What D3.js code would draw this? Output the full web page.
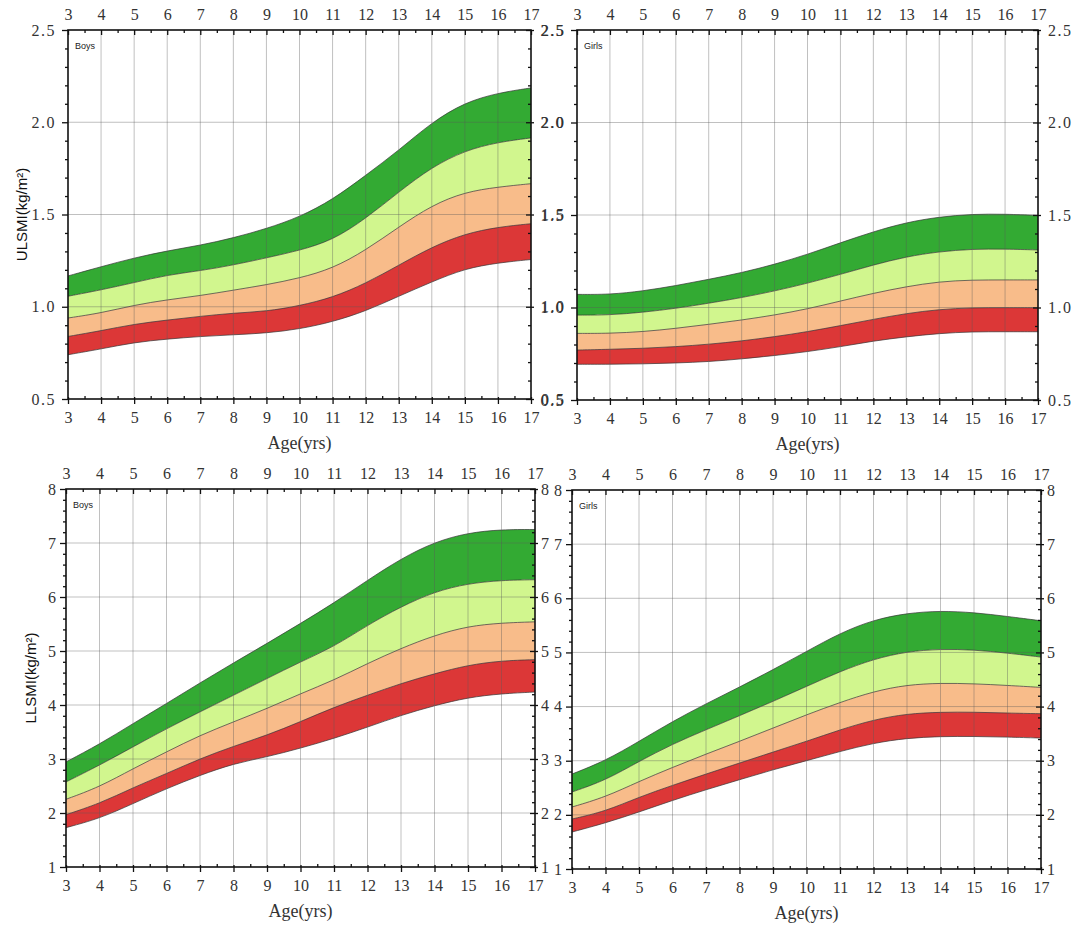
<!DOCTYPE html>
<html>
<head>
<meta charset="utf-8">
<script src="https://cdn.jsdelivr.net/npm/d3@7"></script>
<style>
  body { margin: 0; background: #fff; }
  svg { display: block; }
  .tick text { fill: #333; }
</style>
</head>
<body>
<script>
// ages on the x axis
var ages = [3, 4, 5, 6, 7, 8, 9, 10, 11, 12, 13, 14, 15, 16, 17];

// each panel: 5 reference curves, top to bottom
var boysULSMI = [
  [1.167, 1.217, 1.265, 1.303, 1.333, 1.373, 1.423, 1.486, 1.58, 1.712, 1.847, 2.0, 2.108, 2.159, 2.186],
  [1.057, 1.091, 1.131, 1.172, 1.195, 1.226, 1.265, 1.305, 1.36, 1.477, 1.622, 1.757, 1.847, 1.892, 1.915],
  [0.939, 0.966, 1.009, 1.038, 1.06, 1.09, 1.119, 1.155, 1.207, 1.306, 1.432, 1.55, 1.622, 1.649, 1.667],
  [0.839, 0.87, 0.906, 0.928, 0.948, 0.966, 0.975, 1.005, 1.05, 1.126, 1.225, 1.324, 1.396, 1.432, 1.45],
  [0.74, 0.771, 0.807, 0.825, 0.839, 0.848, 0.857, 0.879, 0.918, 0.976, 1.057, 1.135, 1.207, 1.238, 1.256]
];
var girlsULSMI = [
  [1.071, 1.07, 1.089, 1.118, 1.152, 1.188, 1.233, 1.287, 1.35, 1.41, 1.46, 1.49, 1.505, 1.505, 1.498],
  [0.959, 0.959, 0.974, 0.995, 1.023, 1.053, 1.089, 1.131, 1.179, 1.23, 1.275, 1.302, 1.316, 1.316, 1.311],
  [0.86, 0.86, 0.869, 0.887, 0.909, 0.932, 0.959, 0.992, 1.035, 1.077, 1.113, 1.14, 1.149, 1.149, 1.149],
  [0.77, 0.774, 0.779, 0.788, 0.801, 0.819, 0.842, 0.869, 0.902, 0.936, 0.968, 0.99, 0.999, 0.999, 0.999],
  [0.693, 0.693, 0.695, 0.7, 0.707, 0.722, 0.74, 0.761, 0.788, 0.819, 0.842, 0.86, 0.869, 0.869, 0.869]
];
var boysLLSMI = [
  [2.946, 3.273, 3.656, 4.027, 4.41, 4.78, 5.14, 5.51, 5.89, 6.31, 6.71, 7.02, 7.19, 7.25, 7.25],
  [2.575, 2.884, 3.224, 3.563, 3.872, 4.181, 4.49, 4.8, 5.08, 5.48, 5.82, 6.1, 6.25, 6.31, 6.32],
  [2.254, 2.482, 2.822, 3.131, 3.44, 3.687, 3.934, 4.21, 4.46, 4.77, 5.05, 5.29, 5.46, 5.52, 5.54],
  [1.97, 2.174, 2.47, 2.729, 3.007, 3.236, 3.44, 3.69, 3.96, 4.18, 4.4, 4.58, 4.74, 4.82, 4.84],
  [1.729, 1.896, 2.174, 2.452, 2.699, 2.915, 3.038, 3.2, 3.38, 3.59, 3.81, 3.99, 4.14, 4.21, 4.24]
];
var girlsLLSMI = [
  [2.754, 3.0, 3.357, 3.726, 4.052, 4.36, 4.68, 5.018, 5.357, 5.603, 5.726, 5.769, 5.738, 5.665, 5.585],
  [2.422, 2.637, 2.988, 3.308, 3.572, 3.831, 4.095, 4.372, 4.649, 4.877, 5.018, 5.062, 5.049, 4.988, 4.914],
  [2.145, 2.329, 2.618, 2.877, 3.123, 3.357, 3.603, 3.849, 4.077, 4.28, 4.403, 4.434, 4.422, 4.391, 4.354],
  [1.923, 2.065, 2.329, 2.545, 2.754, 2.957, 3.16, 3.357, 3.572, 3.757, 3.868, 3.898, 3.898, 3.88, 3.868],
  [1.683, 1.849, 2.052, 2.268, 2.465, 2.649, 2.834, 3.0, 3.172, 3.326, 3.418, 3.449, 3.449, 3.437, 3.418]
];

var bandColors = ["#33aa33", "#d1f68e", "#f8bc8a", "#dc3737"];

var panels = [
  { data: boysULSMI, label: "Boys", x0: 68, x1: 531, y0: 30, y1: 399,
    dom: [0.5, 2.5], major: 0.5, minor: 0.1, fmt: ".1f", title: "ULSMI(kg/m²)", titleX: 22 },
  { data: girlsULSMI, label: "Girls", x0: 577, x1: 1038, y0: 30, y1: 400,
    dom: [0.5, 2.5], major: 0.5, minor: 0.1, fmt: ".1f" },
  { data: boysLLSMI, label: "Boys", x0: 66, x1: 535, y0: 489, y1: 867,
    dom: [1, 8], major: 1, minor: 0.2, fmt: "d", title: "LLSMI(kg/m²)", titleX: 31 },
  { data: girlsLLSMI, label: "Girls", x0: 572, x1: 1041, y0: 490, y1: 869,
    dom: [1, 8], major: 1, minor: 0.2, fmt: "d" }
];

var svg = d3.select("body").append("svg")
    .attr("width", 1072)
    .attr("height", 925);

var serif = "'Liberation Serif', 'DejaVu Serif', serif";
var sans = "'Liberation Sans', Arial, sans-serif";

function steps(lo, hi, step) {
  var n = Math.round((hi - lo) / step);
  return d3.range(n + 1).map(function(i) { return +(lo + i * step).toFixed(2); });
}

panels.forEach(function(p) {
  var x = d3.scaleLinear().domain([3, 17]).range([p.x0, p.x1]);
  var y = d3.scaleLinear().domain(p.dom).range([p.y1, p.y0]);
  var g = svg.append("g");

  var majorY = steps(p.dom[0], p.dom[1], p.major);
  var minorY = steps(p.dom[0], p.dom[1], p.minor).filter(function(v) {
    return majorY.indexOf(v) < 0;
  });
  var minorX = d3.range(3.5, 17, 1);
  var fmt = d3.format(p.fmt);
  var isDec = p.fmt === ".1f";

  // bands between consecutive curves
  for (var i = 0; i < 4; i++) {
    var hiC = p.data[i], loC = p.data[i + 1];
    var area = d3.area()
        .x(function(d, k) { return x(ages[k]); })
        .y0(function(d, k) { return y(loC[k]); })
        .y1(function(d, k) { return y(hiC[k]); })
        .curve(d3.curveBasis);
    g.append("path")
        .attr("d", area(ages))
        .attr("fill", bandColors[i]);
  }

  var line = d3.line()
      .x(function(d, k) { return x(ages[k]); })
      .y(function(d) { return y(d); })
      .curve(d3.curveBasis);
  g.selectAll(".curve").data(p.data).enter().append("path")
      .attr("class", "curve")
      .attr("d", line)
      .attr("fill", "none")
      .attr("stroke", "#333")
      .attr("stroke-width", 0.7);

  // grid
  g.selectAll(".vg").data(ages.slice(1, -1)).enter().append("line")
      .attr("x1", function(d) { return x(d); }).attr("x2", function(d) { return x(d); })
      .attr("y1", p.y0).attr("y2", p.y1)
      .attr("stroke", "rgba(90,90,90,0.38)").attr("stroke-width", 1);
  g.selectAll(".hg").data(majorY.slice(1, -1)).enter().append("line")
      .attr("y1", function(d) { return y(d); }).attr("y2", function(d) { return y(d); })
      .attr("x1", p.x0).attr("x2", p.x1)
      .attr("stroke", "rgba(90,90,90,0.38)").attr("stroke-width", 1);

  // axes
  function put(axis, tx, ty) {
    var a = g.append("g").attr("transform", "translate(" + tx + "," + ty + ")").call(axis);
    a.select(".domain").remove();
    a.selectAll("line").attr("stroke", "#111").attr("stroke-width", 1.3);
    a.selectAll("text").style("font-family", serif).style("font-size", "16px");
    return a;
  }
  var ySpacing = isDec ? "1.5px" : "0px";

  // left
  put(d3.axisLeft(y).tickValues(minorY).tickSize(3).tickFormat(""), p.x0, 0);
  put(d3.axisLeft(y).tickValues(majorY).tickSize(6).tickPadding(isDec ? 6 : 4).tickFormat(fmt), p.x0, 0)
      .selectAll("text").style("letter-spacing", ySpacing);
  // right
  put(d3.axisRight(y).tickValues(minorY).tickSize(-3).tickFormat(""), p.x1, 0);
  var r = put(d3.axisRight(y).tickValues(majorY).tickSize(-5).tickPadding(isDec ? 10 : 6).tickFormat(fmt), p.x1, 0);
  r.selectAll("line").attr("x1", 3);
  r.selectAll("text").style("letter-spacing", ySpacing);
  // bottom
  put(d3.axisBottom(x).tickValues(minorX).tickSize(-3).tickFormat(""), 0, p.y1);
  var b = put(d3.axisBottom(x).tickValues(ages).tickSize(5).tickPadding(8).tickFormat(d3.format("d")), 0, p.y1);
  b.selectAll("line").attr("y1", -2);
  // top
  put(d3.axisTop(x).tickValues(minorX).tickSize(-3).tickFormat(""), 0, p.y0);
  put(d3.axisTop(x).tickValues(ages).tickSize(-5).tickPadding(10).tickFormat(d3.format("d")), 0, p.y0);

  // frame
  g.append("rect")
      .attr("x", p.x0).attr("y", p.y0)
      .attr("width", p.x1 - p.x0).attr("height", p.y1 - p.y0)
      .attr("fill", "none").attr("stroke", "#111").attr("stroke-width", 1.6);

  g.append("text")
      .attr("x", p.x0 + 7).attr("y", p.y0 + 19)
      .style("font-family", sans).style("font-size", "9px")
      .attr("fill", "#222")
      .text(p.label);

  g.append("text")
      .attr("x", (p.x0 + p.x1) / 2).attr("y", p.y1 + 50)
      .attr("text-anchor", "middle")
      .style("font-family", serif).style("font-size", "18px")
      .attr("fill", "#333")
      .text("Age(yrs)");

  if (p.title) {
    g.append("text")
        .attr("transform", "translate(" + p.titleX + "," + ((p.y0 + p.y1) / 2) + ") rotate(-90)")
        .attr("text-anchor", "middle")
        .attr("dy", "0.35em")
        .style("font-family", sans).style("font-size", "15px")
        .attr("fill", "#111")
        .text(p.title);
  }
});
</script>
</body>
</html>
